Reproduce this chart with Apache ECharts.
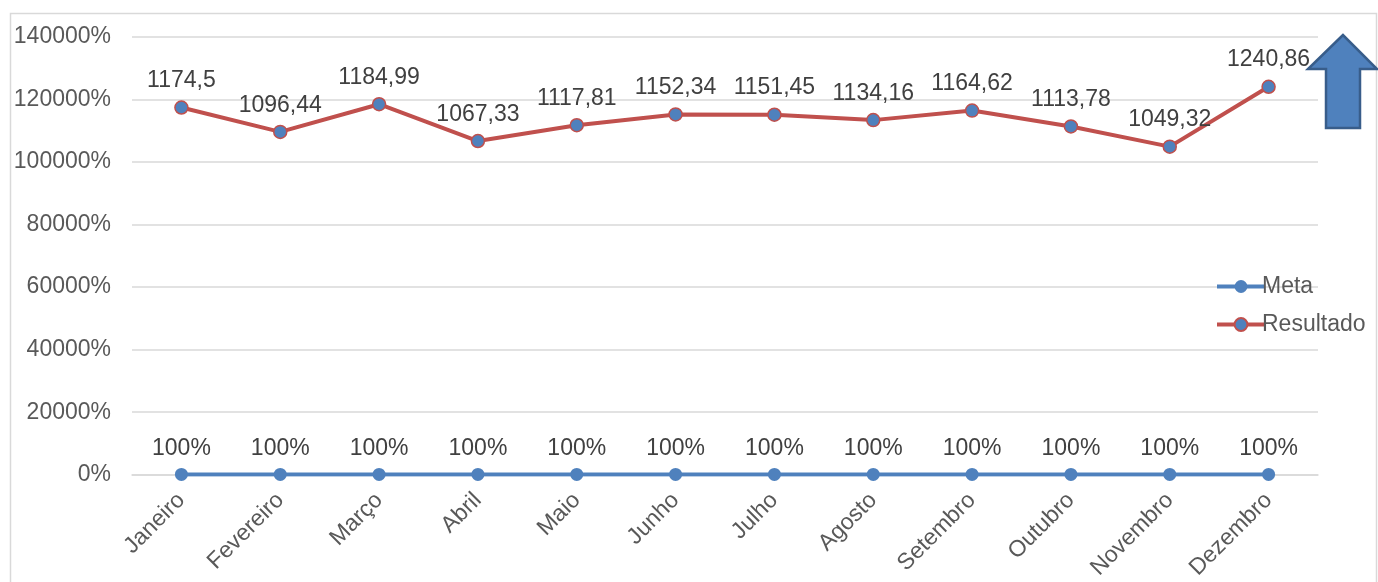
<!DOCTYPE html>
<html>
<head>
<meta charset="utf-8">
<script src="https://cdn.jsdelivr.net/npm/echarts@6/dist/echarts.min.js"></script>
<style>
  html, body { margin: 0; padding: 0; background: #fff; }
  #chart { width: 1378px; height: 582px; }
</style>
</head>
<body>
<div id="chart"></div>
<script>
const months = ['Janeiro', 'Fevereiro', 'Março', 'Abril', 'Maio', 'Junho', 'Julho', 'Agosto', 'Setembro', 'Outubro', 'Novembro', 'Dezembro'];
const meta = [1, 1, 1, 1, 1, 1, 1, 1, 1, 1, 1, 1];
const resultado = [1174.5, 1096.44, 1184.99, 1067.33, 1117.81, 1152.34, 1151.45, 1134.16, 1164.62, 1113.78, 1049.32, 1240.86];

const blue = '#4f81bd';
const red = '#c0504d';
const fontFamily = '"Liberation Sans", Arial, sans-serif';

const chart = echarts.init(document.getElementById('chart'));

chart.setOption({
    animation: false,
    textStyle: { fontFamily: fontFamily },
    grid: { left: 132, right: 60, top: 37, bottom: 107 },
    legend: {
        orient: 'vertical',
        left: 1210,
        top: 270,
        itemWidth: 48,
        itemHeight: 16,
        itemGap: 15,
        lineStyle: { width: 4 },
        textStyle: { fontSize: 23, color: '#595959', fontFamily: fontFamily, padding: [0, 0, 0, -8] },
        data: ['Meta', 'Resultado']
    },
    xAxis: {
        type: 'category',
        data: months,
        boundaryGap: true,
        axisLine: { show: true, lineStyle: { color: '#d9d9d9', width: 1.5 } },
        axisTick: { show: false },
        axisLabel: { rotate: 45, fontSize: 23, color: '#595959', margin: 22, interval: 0 }
    },
    yAxis: {
        type: 'value',
        min: 0,
        max: 1400,
        interval: 200,
        axisLine: { show: false },
        axisTick: { show: false },
        axisLabel: {
            fontSize: 23, color: '#595959', margin: 21,
            formatter: v => Math.round(v * 100) + '%'
        },
        splitLine: { lineStyle: { color: '#d9d9d9', width: 1.5 } }
    },
    series: [
        {
            name: 'Meta',
            type: 'line',
            data: meta,
            symbol: 'circle',
            symbolSize: 13,
            lineStyle: { color: blue, width: 4 },
            itemStyle: { color: blue },
            label: {
                show: true, position: 'top', distance: 8, fontSize: 23, color: '#404040',
                formatter: p => Math.round(p.value * 100) + '%'
            }
        },
        {
            name: 'Resultado',
            type: 'line',
            data: resultado,
            symbol: 'circle',
            symbolSize: 13,
            lineStyle: { color: red, width: 4 },
            itemStyle: { color: blue, borderColor: red, borderWidth: 1.5 },
            label: {
                show: true, position: 'top', distance: 8, fontSize: 23, color: '#404040',
                formatter: p => String(p.value).replace('.', ',')
            }
        }
    ],
    graphic: [
        {
            type: 'rect',
            shape: { x: 10.5, y: 13.5, width: 1366, height: 600 },
            style: { fill: 'none', stroke: '#d9d9d9', lineWidth: 1.5 },
            silent: true,
            z: -1
        },
        {
            // seta azul no canto superior direito
            type: 'polygon',
            shape: {
                points: [[1343, 35], [1308, 69], [1326, 69], [1326, 128], [1360, 128], [1360, 69], [1377, 69]]
            },
            style: { fill: blue, stroke: '#385d8a', lineWidth: 2.5 }
        }
    ]
});
</script>
</body>
</html>
